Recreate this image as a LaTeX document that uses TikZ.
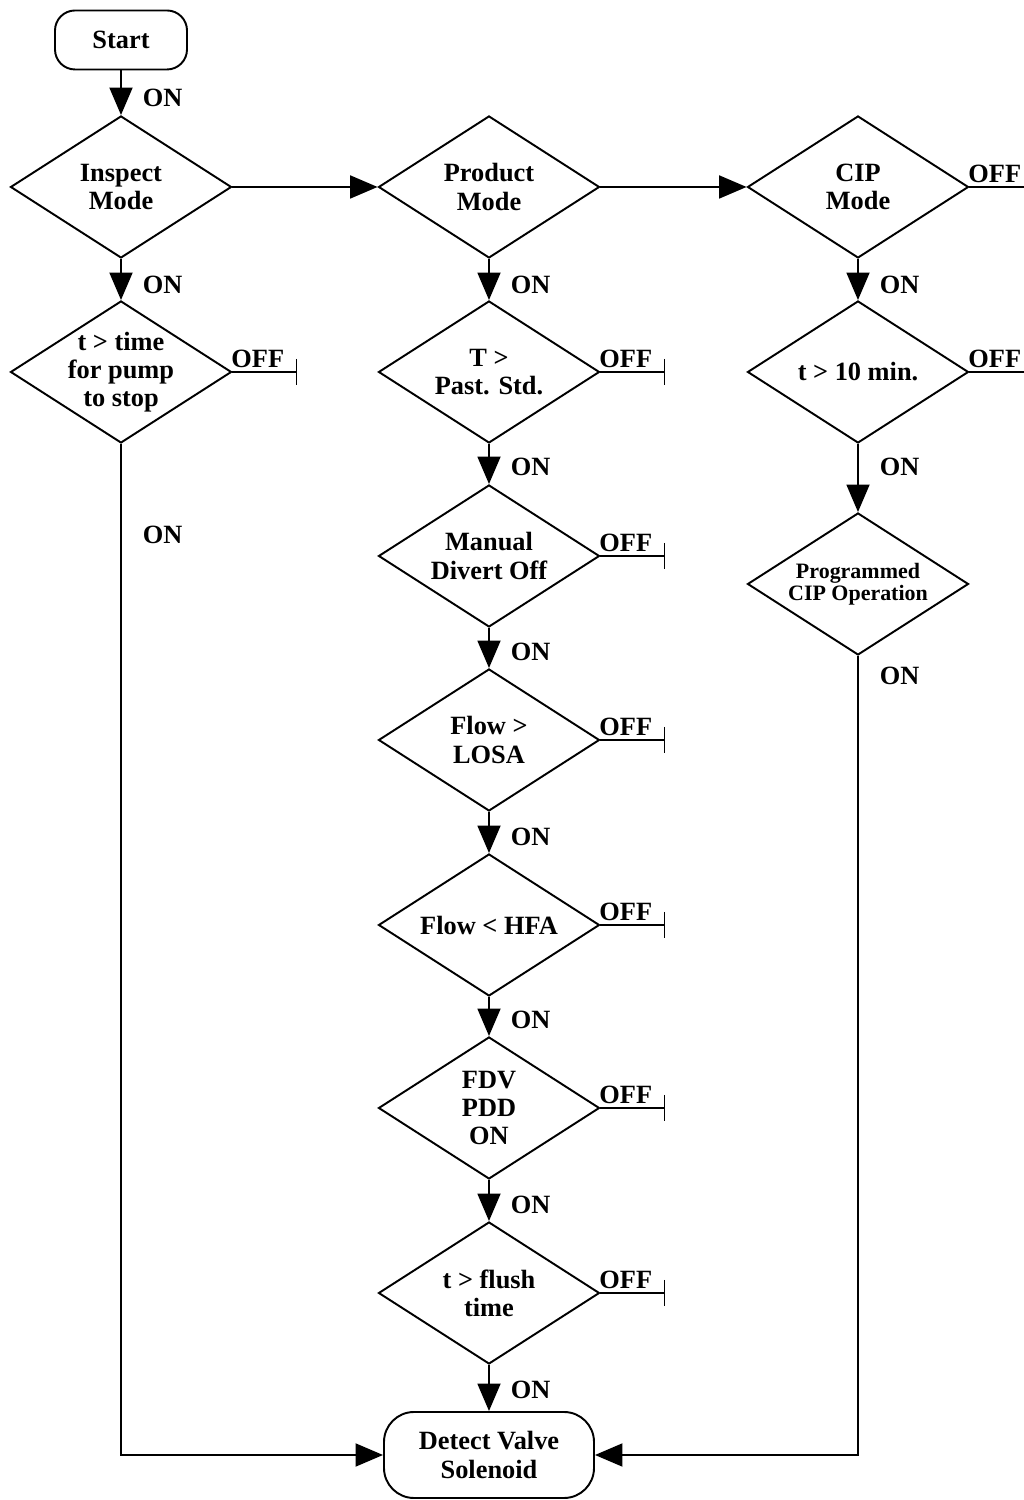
\documentclass[tikz,border=0pt]{standalone}
\usepackage{fontspec}
\setmainfont{Liberation Serif}
\usetikzlibrary{arrows.meta,shapes.geometric}
\tikzset{
  % decision diamond
  decision/.style={diamond, draw, line width=1.1pt, aspect=1.56,
                   minimum width=4.42cm, minimum height=2.84cm,
                   inner xsep=-0.5cm, inner ysep=-0.4cm, align=center,
                   font=\fontsize{15}{16}\selectfont\bfseries},
  % start / end terminal
  terminal/.style={rectangle, rounded corners=#1, draw, line width=1.1pt, align=center,
                   font=\fontsize{15}{16}\selectfont\bfseries},
  terminal/.default={0.4cm},
  % flow arrow
  flowarrow/.style={-{Triangle[length=0.55cm,width=0.46cm]}, line width=1.1pt},
  % OFF stub ending in a bar
  offstub/.style={-{Bar[width=0.52cm]}, line width=1.1pt},
  % branch labels
  onlabel/.style={anchor=west, xshift=0.42cm, inner sep=0pt,
                  font=\fontsize{15}{16}\selectfont\bfseries},
  offlabel/.style={anchor=south west, inner xsep=0pt, inner ysep=2pt, xshift=-0.04cm,
                   font=\fontsize{15}{16}\selectfont\bfseries},
}

\begin{document}
\begin{tikzpicture}
  \useasboundingbox (0,0) rectangle (20.46,30);

  % ═══════ START ═══════
  \node[terminal, minimum width=2.64cm, minimum height=1.18cm] (start) at (2.42,29.2) {Start};

  % ═══════ MODE ROW ═══════
  \node[decision] (ins) at (2.42,26.26) {Inspect\\Mode};
  \node[decision] (prod) at (9.78,26.26) {Product\\Mode};
  \node[decision] (cip) at (17.16,26.26) {CIP\\Mode};

  % ═══════ INSPECT BRANCH ═══════
  \node[decision] (pump) at (2.42,22.56) {t > time\\for pump\\to stop};

  % ═══════ PRODUCT BRANCH ═══════
  \node[decision] (past) at (9.78,22.56) {T >\\Past. Std.};
  \node[decision] (manual) at (9.78,18.88) {Manual\\Divert Off};
  \node[decision] (losa) at (9.78,15.2) {Flow >\\LOSA};
  \node[decision] (hfa) at (9.78,11.5) {Flow < HFA};
  \node[decision] (fdv) at (9.78,7.84) {FDV\\PDD\\ON};
  \node[decision] (flush) at (9.78,4.14) {t > flush\\time};

  % ═══════ CIP BRANCH ═══════
  \node[decision] (tten) at (17.16,22.56) {t > 10 min.};
  \node[decision, font=\fontsize{12.5}{12.5}\selectfont\bfseries] (prog) at (17.16,18.32)
    {Programmed\\CIP Operation};

  % ═══════ END ═══════
  \node[terminal=0.6cm, minimum width=4.2cm, minimum height=1.72cm] (det) at (9.78,0.9)
    {Detect Valve\\Solenoid};

  % mode row arrows
  \draw[flowarrow] (start) -- node[onlabel, pos=0.62] (on-start) {ON} (ins);
  \draw[flowarrow] (ins) -- (prod);
  \draw[flowarrow] (prod) -- (cip);

  % ON arrows down each column
  \draw[flowarrow] (ins) -- node[onlabel, pos=0.62] (on-ins) {ON} (pump);
  \draw[flowarrow] (prod) -- node[onlabel, pos=0.62] (on-prod) {ON} (past);
  \draw[flowarrow] (past) -- node[onlabel, pos=0.58] (on-past) {ON} (manual);
  \draw[flowarrow] (manual) -- node[onlabel, pos=0.6] (on-manual) {ON} (losa);
  \draw[flowarrow] (losa) -- node[onlabel, pos=0.6] (on-losa) {ON} (hfa);
  \draw[flowarrow] (hfa) -- node[onlabel, pos=0.6] (on-hfa) {ON} (fdv);
  \draw[flowarrow] (fdv) -- node[onlabel, pos=0.6] (on-fdv) {ON} (flush);
  \draw[flowarrow] (flush) -- node[onlabel, pos=0.54] (on-flush) {ON} (det);
  \draw[flowarrow] (cip) -- node[onlabel, pos=0.62] (on-cip) {ON} (tten);
  \draw[flowarrow] (tten) -- node[onlabel, pos=0.34] (on-tten) {ON} (prog);

  % long returns into the end box
  \draw[flowarrow] (pump) |- node[onlabel, pos=0.045] (on-pump) {ON} (det);
  \draw[flowarrow] (prog) |- node[onlabel, pos=0.0125] (on-prog) {ON} (det);

  % OFF stubs
  \coordinate (cip-end) at ([xshift=1.3cm]cip.east);
  \coordinate (pump-end) at ([xshift=1.3cm]pump.east);
  \coordinate (past-end) at ([xshift=1.3cm]past.east);
  \coordinate (tten-end) at ([xshift=1.3cm]tten.east);
  \coordinate (manual-end) at ([xshift=1.3cm]manual.east);
  \coordinate (losa-end) at ([xshift=1.3cm]losa.east);
  \coordinate (hfa-end) at ([xshift=1.3cm]hfa.east);
  \coordinate (fdv-end) at ([xshift=1.3cm]fdv.east);
  \coordinate (flush-end) at ([xshift=1.3cm]flush.east);
  \draw[offstub] (cip) -- node[offlabel, pos=0] (off-cip) {OFF} (cip-end);
  \draw[offstub] (pump) -- node[offlabel, pos=0] (off-pump) {OFF} (pump-end);
  \draw[offstub] (past) -- node[offlabel, pos=0] (off-past) {OFF} (past-end);
  \draw[offstub] (tten) -- node[offlabel, pos=0] (off-tten) {OFF} (tten-end);
  \draw[offstub] (manual) -- node[offlabel, pos=0] (off-manual) {OFF} (manual-end);
  \draw[offstub] (losa) -- node[offlabel, pos=0] (off-losa) {OFF} (losa-end);
  \draw[offstub] (hfa) -- node[offlabel, pos=0] (off-hfa) {OFF} (hfa-end);
  \draw[offstub] (fdv) -- node[offlabel, pos=0] (off-fdv) {OFF} (fdv-end);
  \draw[offstub] (flush) -- node[offlabel, pos=0] (off-flush) {OFF} (flush-end);

\end{tikzpicture}
\end{document}
